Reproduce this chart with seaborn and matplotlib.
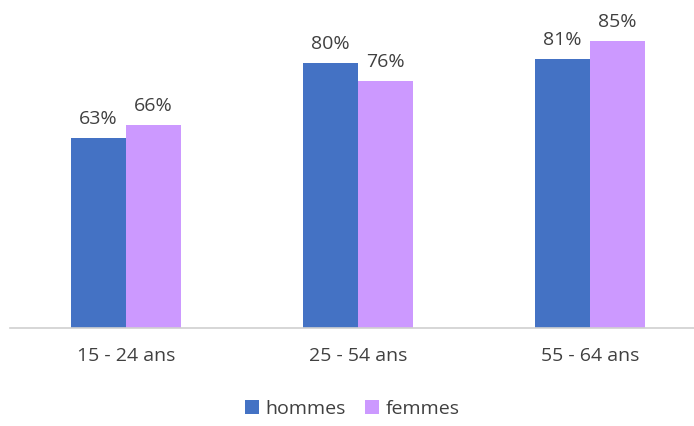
import matplotlib
matplotlib.use("Agg")
import matplotlib.pyplot as plt
import seaborn as sns
import pandas as pd

categories = ["15 - 24 ans", "25 - 54 ans", "55 - 64 ans"]
hommes = [63, 80, 81]
femmes = [66, 76, 85]
series = ["hommes", "femmes"]
colors = ["#4472C4", "#CC99FF"]

df = pd.DataFrame({
    "age": categories * 2,
    "valeur": hommes + femmes,
    "sexe": [series[0]] * 3 + [series[1]] * 3,
})

sns.set_style("white")
plt.rcParams["font.family"] = ["Open Sans", "DejaVu Sans"]
text_color = "#404040"

fig = plt.figure(figsize=(6.94, 4.26), dpi=100)
ax = fig.add_axes([10 / 694, 98 / 426, 696 / 694, 309 / 426])

sns.barplot(data=df, x="age", y="valeur", hue="sexe", palette=colors,
            saturation=1, width=0.474, linewidth=0, ax=ax, legend=True)

for cont in ax.containers:
    ax.bar_label(cont, fmt="%d%%", padding=7, fontsize=14, color=text_color)

ax.set_ylim(20, 90)
ax.set_xlim(-0.5, 2.5)
ax.set_xlabel("")
ax.set_ylabel("")
ax.set_yticks([])
ax.tick_params(axis="x", length=0, pad=14, labelsize=14, colors=text_color)
for side in ["top", "right", "left"]:
    ax.spines[side].set_visible(False)
ax.spines["bottom"].set_color("#D0D0D0")
ax.spines["bottom"].set_linewidth(1.2)

handles, labels = ax.get_legend_handles_labels()
ax.legend(handles, labels, loc="center", bbox_to_anchor=(0.508, 17 / 426),
          bbox_transform=fig.transFigure, ncol=2, frameon=False,
          handlelength=0.7, handleheight=0.7, handletextpad=0.35,
          columnspacing=1.0, fontsize=14, labelcolor=text_color)

fig.savefig("out.png", dpi=100)
